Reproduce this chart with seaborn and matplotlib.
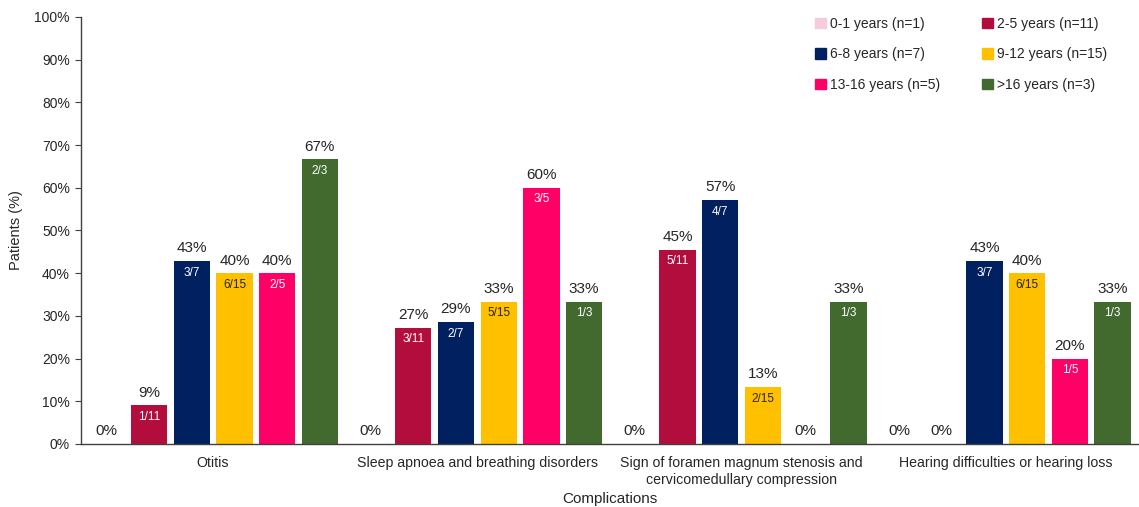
import pandas as pd
import seaborn as sns
import matplotlib.pyplot as plt

# data
complications = ['Otitis', 'Sleep apnoea and breathing disorders',
                 'Sign of foramen magnum stenosis and\ncervicomedullary compression',
                 'Hearing difficulties or hearing loss']
age_groups = ['0-1 years (n=1)', '2-5 years (n=11)', '6-8 years (n=7)',
              '9-12 years (n=15)', '13-16 years (n=5)', '>16 years (n=3)']
group_n = [1, 11, 7, 15, 5, 3]
# number of patients with each complication, per age group (same order as complications)
cases_0_1 = [0, 0, 0, 0]
cases_2_5 = [1, 3, 5, 0]
cases_6_8 = [3, 2, 4, 3]
cases_9_12 = [6, 5, 2, 6]
cases_13_16 = [2, 3, 0, 1]
cases_16p = [2, 1, 1, 1]
colors = ['#F8CBDA', '#B30D3E', '#002060', '#FFC000', '#FF0066', '#436A2E']

cases = [cases_0_1, cases_2_5, cases_6_8, cases_9_12, cases_13_16, cases_16p]
rows = []
for age, n, cs in zip(age_groups, group_n, cases):
    for comp, c in zip(complications, cs):
        rows.append({'complication': comp, 'age': age, 'cases': c, 'n': n,
                     'pct': 100 * c / n})
df = pd.DataFrame(rows)

sns.set_style('white')
plt.rcParams['font.family'] = ['Liberation Sans', 'DejaVu Sans']

fig = plt.figure(figsize=(11.39, 5.07), dpi=100)
ax = fig.add_axes([0.0711, 0.1243, 0.928, 0.8422])

sns.barplot(data=df, x='complication', y='pct', hue='age', hue_order=age_groups,
            order=complications, palette=colors, width=0.97, gap=0.15,
            linewidth=0, saturation=1, ax=ax, legend=False)

# labels: percentage above each bar, fraction inside it
for i, cont in enumerate(ax.containers):
    sub = df[df['age'] == age_groups[i]].set_index('complication').loc[complications]
    for bar, (_, r) in zip(cont, sub.iterrows()):
        xc = bar.get_x() + bar.get_width() / 2
        h = bar.get_height()
        ax.annotate(f"{r['pct']:.0f}%", (xc, h), xytext=(0, 4), textcoords='offset points',
                    ha='center', va='bottom', fontsize=11, color='#262626')
        if r['cases'] > 0:
            tc = '#262626' if i == 3 else 'white'
            ax.annotate(f"{r['cases']}/{r['n']}", (xc, h), xytext=(0, -4),
                        textcoords='offset points', ha='center', va='top',
                        fontsize=8.5, color=tc)

ax.set_ylim(0, 100)
ax.set_xlim(-0.5, 3.5)
ax.set_yticks(range(0, 101, 10))
ax.set_yticklabels([f'{v}%' for v in range(0, 101, 10)])
ax.tick_params(axis='y', length=4, width=0.8, color='#404040', labelsize=10,
               labelcolor='#262626', left=True, pad=4)
ax.tick_params(axis='x', length=0, labelsize=10.2, labelcolor='#262626', pad=9)
for s in ['top', 'right']:
    ax.spines[s].set_visible(False)
for s in ['left', 'bottom']:
    ax.spines[s].set_color('#404040')
    ax.spines[s].set_linewidth(1.0)

ax.set_ylabel('Patients (%)', fontsize=10.5, color='#262626', labelpad=8)
ax.set_xlabel('Complications', fontsize=11, color='#262626', labelpad=4)

# legend, filled row by row
handles = [plt.Rectangle((0, 0), 1, 1, color=c) for c in colors]
order = [0, 2, 4, 1, 3, 5]
ax.legend([handles[k] for k in order], [age_groups[k] for k in order], ncol=2,
          frameon=False, loc='upper right', bbox_to_anchor=(0.983, 1.03),
          fontsize=10, handlelength=0.8, handleheight=0.8, handletextpad=0.3,
          columnspacing=3.0, labelspacing=1.2)

plt.savefig('out.png', dpi=100)
